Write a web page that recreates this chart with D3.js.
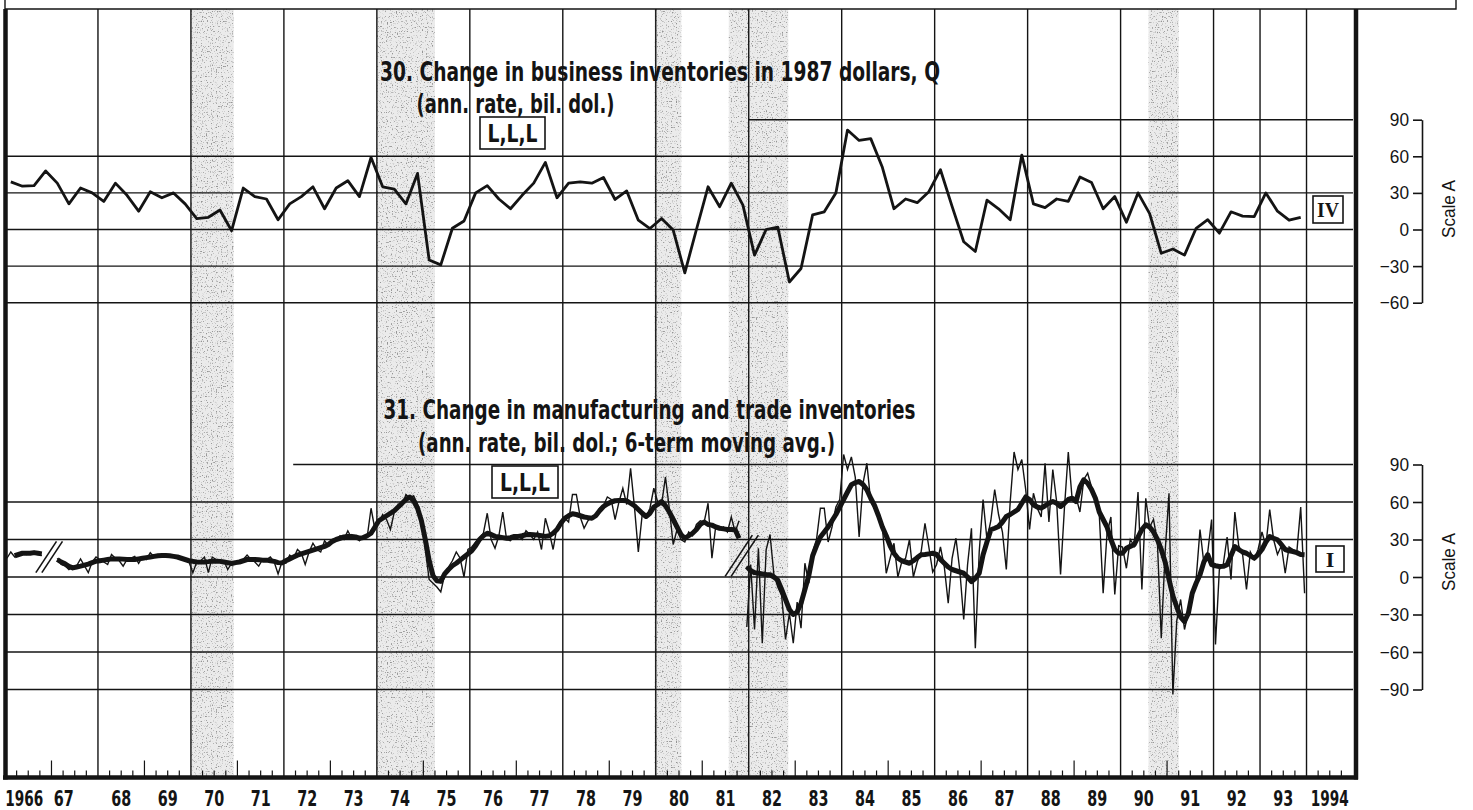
<!DOCTYPE html>
<html>
<head>
<meta charset="utf-8">
<script src="https://cdn.jsdelivr.net/npm/d3@7"></script>
<style>
  body { margin: 0; background: #fff; }
  svg { display: block; }
</style>
</head>
<body>
<svg id="chart" width="1473" height="810"></svg>
<script>
// ---------------------------------------------------------------------------
// Data
// ---------------------------------------------------------------------------

// Recessions (peak to trough), decimal years
const recessions = [
  [1970.0, 1970.92],
  [1974.0, 1975.25],
  [1979.97, 1980.55],
  [1981.57, 1982.85],
  [1990.6, 1991.25]
];

// Series 30: change in business inventories in 1987 dollars, quarterly, 1966Q1-1993Q4
const businessInvChange = [
  39, 35.5, 36, 48,      // 1966
  38, 21, 34, 30,        // 1967
  23, 38, 28, 15,        // 1968
  31, 26, 30, 21,        // 1969
  9, 10, 16, -1,         // 1970
  34, 27, 25, 8,         // 1971
  21, 27, 35, 17,        // 1972
  34, 40, 27, 59,        // 1973
  35, 33, 21, 46,        // 1974
  -25, -29, 1, 7,        // 1975
  30, 36, 25, 17,        // 1976
  28, 38, 55, 26,        // 1977
  38, 39, 38, 42.6,      // 1978
  24.6, 31.6, 7.6, 0.8,  // 1979
  9, -0.5, -35.5, 0,     // 1980
  35, 18.7, 38, 20,      // 1981
  -21, 0, 2, -43,        // 1982
  -32, 12, 14.5, 30,     // 1983
  81.5, 73, 74.5, 51,    // 1984
  17, 25, 22, 31,        // 1985
  49, 19, -10, -18,      // 1986
  24, 17, 8, 61,         // 1987
  21, 18, 25, 23,        // 1988
  43, 38.5, 17, 27,      // 1989
  6, 30, 13, -19.5,      // 1990
  -16, -21, 1, 8,        // 1991
  -3, 14.5, 11, 10.5,    // 1992
  30, 15, 7.6, 10        // 1993
];

// Series 31: change in manufacturing and trade inventories, monthly, Jan 1966-Dec 1993
// (null = no value; the series is broken after Oct 1966 and after Oct 1981)
const mtInvChange = [
  15, 20, 16, 19, 20, 18, 19, 20, 19, 17, null, null,         // 1966
  null, 15, 10, 9, 6, 8, 9, 14.5, 9, 3.5, 12, 16,             // 1967
  14, 12, 10, 18, 15, 13, 8.7, 14, 15, 16.5, 11, 16,          // 1968
  14, 19.5, 16, 18, 17, 17.5, 17, 16, 17, 14, 13.5, 12,       // 1969
  3.5, 12, 13, 16, 3.5, 16, 14, 12, 13, 6, 11, 12,            // 1970
  12, 14, 17.5, 14, 12, 8.7, 14, 14, 16, 12, 2.5, 12,         // 1971
  11, 17.5, 15, 22, 19, 10, 20, 27, 22, 20, 29, 25,           // 1972
  30, 29, 33, 30, 37, 31, 32, 29, 33, 32, 55, 38,             // 1973
  44, 50, 46, 38, 52, 55, 57, 66, 63, 65, 58, 48,             // 1974
  22, -2, -5, -8, -12, 2, 8, 13, 20, 15, 0, 22,               // 1975
  24, 28, 31, 35, 51, 30, 23, 33, 52, 30, 29, 33,             // 1976
  33, 30, 37, 34, 30, 36, 22, 47, 36, 22, 40, 45,             // 1977
  47, 44, 66, 66, 48, 39, 45, 48, 50, 55, 57, 64,             // 1978
  62, 46, 60, 71, 58, 87, 56, 20, 50, 48, 55, 71,             // 1979
  60, 58, 80, 55, 26, 38, 30, 28, 36, 33, 42, 45,             // 1980
  44, 59, 15, 41, 38, 40, 36, 48, 36, 45, null, -40,          // 1981
  10, -42, 23, -53, 22, 34, 2, -8, -15, -50, -29, -53,        // 1982
  -20, -41, 11, -5, 20, 30, 55, 55, 28, 40, 56, 62,           // 1983
  98, 86, 96, 80, 32, 75, 91, 60, 55, 48, 40, 3,              // 1984
  15, 27, 0, 12, 15, 30, 0, 12, 20, 43, 24, 4,                // 1985
  10, 24, 8, -21, 15, 31, 5, -34, 10, 39, -57, 20,            // 1986
  62, 30, 45, 70, 50, 36, 6, 60, 100, 86, 94, 70,             // 1987
  38, 67, 55, 48, 91, 44, 86, 60, 2, 55, 100, 62,             // 1988
  64, 52, 78, 83, 72, 65, 50, -13, 35, 48, -14, 25,           // 1989
  24, 7, 30, 25, 68, -10, 63, 40, 46, 28, -49, 20,            // 1990
  67, -94, -35, -18, -42, -28, -12, -2, 38, 11, 20, 46,       // 1991
  -54, 6, 10, 32, -2, 52, 25, 18, -10, 20, 14, 22,            // 1992
  36, 25, 54, 30, 18, 25, 3, 24, 22, 20, 56, -13              // 1993
];

// Series 31, 6-term moving average, monthly, Jan 1966-Dec 1993
const mtInvChangeAvg = [
  null, null, 17, 18, 19, 19, 19, 19.5, 19, 18.5, null, null, // 1966
  null, 14, 12, 10.5, 8.5, 7.3, 8, 8.7, 9.5, 10.3, 11.5, 12.6, // 1967
  13, 13.5, 14, 14.5, 14.5, 14.5, 14.3, 14, 14, 14, 14.5, 15, // 1968
  15.5, 16, 16.5, 17, 17.2, 17.2, 17, 16.5, 16, 15, 14, 13,   // 1969
  12.5, 12, 11.9, 12, 12.3, 12.7, 12.7, 12.5, 12, 11.5, 10.8, 11.5, // 1970
  12, 13, 14, 14, 14, 13.8, 13.5, 13.5, 13, 12.5, 11.5, 11.3, // 1971
  13, 14.5, 16, 17.5, 18.5, 19.5, 20.5, 21.5, 22.5, 23.5, 24.5, 26, // 1972
  28.5, 30, 31, 32, 32.4, 32.5, 32, 31, 31.5, 33, 35, 40,     // 1973
  45, 47, 49, 51, 53, 56, 59, 62, 64, 61, 55, 45,             // 1974
  30, 13, 1, -3, -3.5, 2.5, 6, 9, 11, 13.5, 16, 18.5,         // 1975
  21, 25, 30, 33, 35, 34, 32.5, 32, 31.5, 31, 31.5, 32.5,     // 1976
  32.5, 33, 33.8, 34, 33.8, 33.5, 33, 32.5, 33, 35, 38, 43,   // 1977
  47, 49, 50.6, 50, 49, 48, 47.5, 47, 49, 53, 56.4, 58.5,     // 1978
  60, 61, 61.2, 61.2, 61, 59, 57, 54, 51, 48.4, 51, 56,       // 1979
  58, 60.4, 57, 52, 46, 40, 34, 31, 33, 35, 38, 42,           // 1980
  44, 42, 41.5, 40, 39, 38.5, 38, 38, 37.8, 31, null, 8.4,    // 1981
  5, 3.5, 3, 2.5, 2, 1.8, 0, -2.5, -10, -18, -26, -30,        // 1982
  -28, -21, -10, 1, 17, 25, 32, 36, 40, 45, 50, 56,           // 1983
  62, 68, 73.8, 75.5, 76.4, 74, 69.8, 63, 57, 49, 40, 33,     // 1984
  25, 19, 15, 13, 12, 11, 13, 15.5, 17.8, 18, 18.5, 19,       // 1985
  18, 14, 11, 8, 6, 5, 4, 3, 0, -3.6, -1, 3,                  // 1986
  17.8, 28, 37.8, 39, 40.4, 44, 48.4, 50, 52, 54, 59, 64,     // 1987
  62, 57.8, 56, 55.1, 57, 59, 60.4, 59, 56.4, 59, 62, 63,     // 1988
  60.4, 72, 77.8, 75, 70, 63, 52, 46, 40, 30, 22, 19,         // 1989
  19, 23, 24.5, 25.8, 32, 38, 41.8, 40, 36, 30, 22, 12,       // 1990
  -2, -15, -24, -32, -35.6, -29, -13, -5, 1.8, 12, 17.8, 10,  // 1991
  9, 8.4, 8.5, 9.8, 17, 24.4, 22, 20, 19, 17, 15, 18,         // 1992
  22, 28, 32.4, 31, 29.8, 26, 22, 21, 20.4, 19.5, 18, 17.8    // 1993
];

// Series breaks in series 31 (date, level, vertical extent in bil. dol.)
const seriesBreaks = [
  { t: 1966.95, v: 16, span: 25 },
  { t: 1981.85, v: 17, span: 33 }
];

// Axis ticks and labels
const scaleTicksTop = [-60, -30, 0, 30, 60, 90];
const scaleTicksBottom = [-90, -60, -30, 0, 30, 60, 90];
const yearLabels = ["1966", "67", "68", "69", "70", "71", "72", "73", "74", "75",
  "76", "77", "78", "79", "80", "81", "82", "83", "84", "85", "86", "87", "88",
  "89", "90", "91", "92", "93", "1994"];
const gridYears = [1968, 1970, 1972, 1974, 1976, 1978, 1980, 1982, 1984, 1986,
  1988, 1990, 1992, 1993, 1994];

// Text
const title30 = ["30. Change in business inventories in 1987 dollars, Q", "(ann. rate, bil. dol.)"];
const title31 = ["31. Change in manufacturing and trade inventories", "(ann. rate, bil. dol.; 6-term moving avg.)"];
const timingCode = "L,L,L";
const scaleName = "Scale A";
const sectionTags = ["IV", "I"];

// ---------------------------------------------------------------------------
// Layout
// ---------------------------------------------------------------------------
const svg = d3.select("#chart");
const INK = "#141414";
const condBold = "'Liberation Sans Narrow', 'DejaVu Sans Condensed', 'Arial Narrow', sans-serif";
const plainFont = "'Liberation Sans', Arial, sans-serif";
const serifFont = "'Liberation Serif', 'DejaVu Serif', serif";
const plotTop = 9, plotBottom = 777.5;

const x = d3.scaleLinear().domain([1966, 1995]).range([5, 1353]);
const yTop = d3.scaleLinear().domain([-60, 90]).range([302.7, 119.7]);
const yBot = d3.scaleLinear().domain([-90, 90]).range([689.5, 464.5]);

// ---------------------------------------------------------------------------
// Recession shading (stippled)
// ---------------------------------------------------------------------------
const defs = svg.append("defs");
const stip = defs.append("filter").attr("id", "stipple")
  .attr("x", 0).attr("y", 0).attr("width", 1).attr("height", 1);
stip.append("feTurbulence").attr("type", "fractalNoise")
  .attr("baseFrequency", 0.8).attr("numOctaves", 1).attr("seed", 5).attr("result", "noise");
stip.append("feColorMatrix").attr("in", "noise").attr("type", "matrix")
  .attr("values", "0 0 0 0 0.3  0 0 0 0 0.3  0 0 0 0 0.3  -6 0 0 0 2.55")
  .attr("result", "dots");
stip.append("feComposite").attr("in", "dots").attr("in2", "SourceGraphic").attr("operator", "in");

const bandG = svg.append("g");
bandG.selectAll("rect.base").data(recessions).join("rect")
  .attr("class", "base")
  .attr("x", d => x(d[0])).attr("width", d => x(d[1]) - x(d[0]))
  .attr("y", plotTop).attr("height", plotBottom - plotTop)
  .attr("fill", "#ebebeb");
bandG.selectAll("rect.dots").data(recessions).join("rect")
  .attr("class", "dots")
  .attr("x", d => x(d[0])).attr("width", d => x(d[1]) - x(d[0]))
  .attr("y", plotTop).attr("height", plotBottom - plotTop)
  .attr("fill", "#000").attr("filter", "url(#stipple)");

// ---------------------------------------------------------------------------
// Grid
// ---------------------------------------------------------------------------
const gridG = svg.append("g").attr("stroke", INK).attr("stroke-width", 1.4);
gridG.selectAll("line.v").data(gridYears).join("line")
  .attr("x1", d => x(d)).attr("x2", d => x(d))
  .attr("y1", plotTop).attr("y2", plotBottom);

// horizontal rules: the 90 rules start right of the titles
const topRules = scaleTicksTop.map(v => ({ v, from: v === 90 ? 1982.0 : 1966 }));
const botRules = scaleTicksBottom.map(v => ({ v, from: v === 90 ? 1972.2 : 1966 }));
gridG.selectAll("line.ht").data(topRules).join("line")
  .attr("x1", d => x(d.from)).attr("x2", x(1995))
  .attr("y1", d => yTop(d.v)).attr("y2", d => yTop(d.v));
gridG.selectAll("line.hb").data(botRules).join("line")
  .attr("x1", d => x(d.from)).attr("x2", x(1995))
  .attr("y1", d => yBot(d.v)).attr("y2", d => yBot(d.v));

// ---------------------------------------------------------------------------
// Frame and time axis
// ---------------------------------------------------------------------------
const frame = svg.append("g").attr("stroke", INK).attr("fill", "none");
frame.append("path").attr("stroke-width", 1.4)
  .attr("d", `M${x(1966)},0V${plotTop}H1456V0`);
frame.append("line").attr("stroke-width", 4.5)
  .attr("x1", x(1966) + 0.5).attr("x2", x(1966) + 0.5).attr("y1", plotTop).attr("y2", plotBottom + 2);
frame.append("line").attr("stroke-width", 4.5)
  .attr("x1", x(1995) + 3).attr("x2", x(1995) + 3).attr("y1", plotTop).attr("y2", plotBottom + 2);
frame.append("line").attr("stroke-width", 4.5)
  .attr("x1", x(1966) - 2).attr("x2", x(1995) + 5).attr("y1", plotBottom).attr("y2", plotBottom);

const quarterTicks = d3.range(1966.25, 1995, 0.25).filter(t => !gridYears.includes(t));
frame.selectAll("line.qt").data(quarterTicks).join("line")
  .attr("stroke-width", 1.2)
  .attr("x1", d => x(d)).attr("x2", d => x(d))
  .attr("y1", plotBottom)
  .attr("y2", d => plotBottom - (Number.isInteger(d) ? 17 : 7));

// year labels: centred in each year (the first two sit close together),
// squeezed horizontally to a condensed width
const labelShift = i => (i === 0 ? -4 : i === 1 ? -11 : 0);
svg.append("g").selectAll("text").data(yearLabels).join("text")
  .attr("text-anchor", "middle")
  .attr("font-family", condBold).attr("font-weight", "bold")
  .attr("font-size", 21).attr("fill", INK)
  .text(d => d)
  .each(function (d, i) {
    const natural = this.getComputedTextLength() || 1;
    const target = d.length === 4 ? 38 : 20;
    const cx = x(1966 + i + 0.5) + labelShift(i);
    d3.select(this).attr("transform", `translate(${cx},806) scale(${target / natural},1)`);
  });

// ---------------------------------------------------------------------------
// Series
// ---------------------------------------------------------------------------
const q = businessInvChange.map((v, i) => ({ t: 1966 + (i + 0.5) / 4, v }));
svg.append("path").datum(q)
  .attr("fill", "none").attr("stroke", INK).attr("stroke-width", 2.8)
  .attr("stroke-linejoin", "round")
  .attr("d", d3.line().x(d => x(d.t)).y(d => yTop(d.v)));

const monthly = arr => arr.map((v, i) => ({ t: 1966 + (i + 0.5) / 12, v }));
const lineBot = d3.line().defined(d => d.v != null).x(d => x(d.t)).y(d => yBot(d.v));

svg.append("path").datum(monthly(mtInvChange))
  .attr("fill", "none").attr("stroke", INK).attr("stroke-width", 1.4)
  .attr("stroke-linejoin", "miter")
  .attr("d", lineBot);
svg.append("path").datum(monthly(mtInvChangeAvg))
  .attr("fill", "none").attr("stroke", INK).attr("stroke-width", 5)
  .attr("stroke-linejoin", "round").attr("stroke-linecap", "butt")
  .attr("d", lineBot);

// break symbols: two parallel slashes
const breakG = svg.append("g").attr("stroke", INK).attr("stroke-width", 1.6);
seriesBreaks.forEach(b => {
  const y1 = yBot(b.v - b.span / 2), y2 = yBot(b.v + b.span / 2);
  const half = (y1 - y2) * 0.33;
  [-3, 3].forEach(off => {
    breakG.append("line")
      .attr("x1", x(b.t) + off - half).attr("y1", y1)
      .attr("x2", x(b.t) + off + half).attr("y2", y2);
  });
});

// ---------------------------------------------------------------------------
// Scales on the right
// ---------------------------------------------------------------------------
function rightScale(scale, ticks, centerY) {
  const g = svg.append("g").attr("transform", "translate(1422,0)")
    .call(d3.axisLeft(scale).tickValues(ticks).tickSize(9).tickSizeOuter(0).tickPadding(4));
  g.select(".domain").attr("stroke", INK).attr("stroke-width", 1.6);
  g.selectAll(".tick line").attr("stroke", INK).attr("stroke-width", 1.6);
  g.selectAll(".tick text")
    .attr("font-family", plainFont)
    .attr("font-size", 19).attr("fill", INK)
    .attr("textLength", d => String(Math.abs(d)).length * 9.6 + (d < 0 ? 10 : 0))
    .attr("lengthAdjust", "spacingAndGlyphs");
  svg.append("text")
    .attr("transform", `translate(1455,${centerY}) rotate(-90)`)
    .attr("text-anchor", "middle")
    .attr("font-family", plainFont)
    .attr("font-size", 19).attr("fill", INK)
    .attr("textLength", 58).attr("lengthAdjust", "spacingAndGlyphs")
    .text(scaleName);
}
rightScale(yTop, scaleTicksTop, 209);
rightScale(yBot, scaleTicksBottom, 562);

// ---------------------------------------------------------------------------
// Titles and tags
// ---------------------------------------------------------------------------
function titleBlock(lines, pos) {
  lines.forEach((s, i) => {
    svg.append("text")
      .attr("x", pos[i].x).attr("y", pos[i].y)
      .attr("textLength", pos[i].len).attr("lengthAdjust", "spacingAndGlyphs")
      .attr("font-family", condBold).attr("font-weight", "bold")
      .attr("font-size", 27).attr("fill", INK)
      .text(s);
  });
}
titleBlock(title30, [{ x: 380, y: 81, len: 560 }, { x: 416.5, y: 113, len: 198 }]);
titleBlock(title31, [{ x: 383.5, y: 419, len: 532 }, { x: 418, y: 452, len: 417 }]);

function boxedText(s, bx, by, bw, bh, font, size, len) {
  svg.append("rect").attr("x", bx).attr("y", by).attr("width", bw).attr("height", bh)
    .attr("fill", "#fff").attr("stroke", INK).attr("stroke-width", 1.6);
  const t = svg.append("text").attr("x", bx + bw / 2).attr("y", by + bh / 2)
    .attr("dy", "0.36em").attr("text-anchor", "middle")
    .attr("font-family", font).attr("font-weight", "bold")
    .attr("font-size", size).attr("fill", INK).text(s);
  if (len) t.attr("textLength", len).attr("lengthAdjust", "spacingAndGlyphs");
}
boxedText(timingCode, 480, 117, 65, 32, condBold, 25, 50);
boxedText(timingCode, 492, 466, 66, 32, condBold, 25, 50);
boxedText(sectionTags[0], 1313, 196, 30, 27, serifFont, 22, 22);
boxedText(sectionTags[1], 1316, 546, 28, 26, serifFont, 22);
</script>
</body>
</html>
